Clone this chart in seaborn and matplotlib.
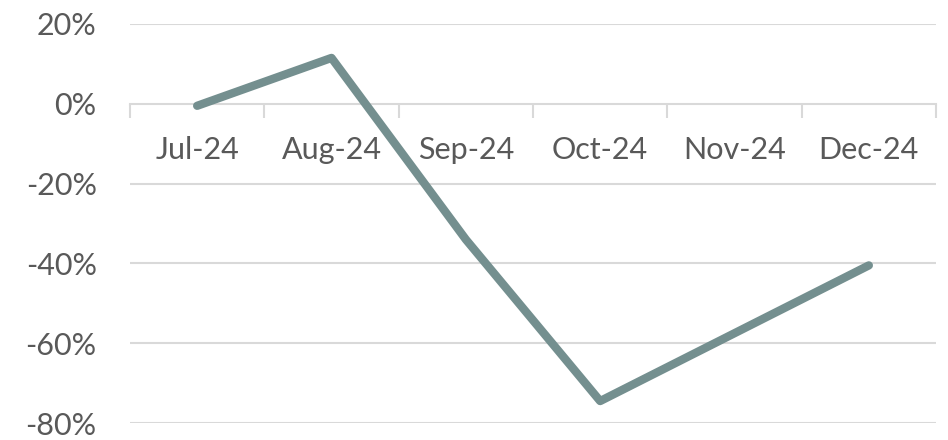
import matplotlib
matplotlib.use("Agg")
import matplotlib.pyplot as plt
import seaborn as sns
import pandas as pd
from matplotlib.ticker import FixedLocator, FuncFormatter

months = ["Jul-24", "Aug-24", "Sep-24", "Oct-24", "Nov-24", "Dec-24"]
values = [-0.005, 0.115, -0.34, -0.745, -0.575, -0.405]
y_ticks = [0.2, 0.0, -0.2, -0.4, -0.6, -0.8]

df = pd.DataFrame({"month": months, "value": values})

sns.set_theme(style="white")
plt.rcParams["font.family"] = ["Lato", "DejaVu Sans"]

fig = plt.figure(figsize=(9.48, 4.4), dpi=100)
ax = fig.add_axes([130 / 948, (440 - 423) / 440, (936 - 130) / 948, (423 - 24) / 440])

sns.lineplot(data=df, x="month", y="value", sort=False, color="#748f8f",
             linewidth=6, ax=ax, solid_capstyle="round", solid_joinstyle="round")

ax.set_xlim(-0.5, len(months) - 0.5)
ax.set_ylim(-0.8, 0.2)
ax.set_xlabel("")
ax.set_ylabel("")

grid_c = "#d9d9d9"
text_c = "#595959"
for y in y_ticks:
    if y != 0:
        ax.axhline(y, color=grid_c, linewidth=1.5, zorder=0)

for s in ["top", "right", "left"]:
    ax.spines[s].set_visible(False)
ax.spines["bottom"].set_position(("data", 0))
ax.spines["bottom"].set_color(grid_c)
ax.spines["bottom"].set_linewidth(1.5)
ax.spines["bottom"].set_zorder(0)

ax.xaxis.set_major_locator(FixedLocator([i - 0.5 for i in range(len(months) + 1)]))
ax.xaxis.set_minor_locator(FixedLocator(list(range(len(months)))))
ax.set_xticklabels([], minor=False)
ax.set_xticklabels(months, minor=True)
ax.tick_params(axis="x", which="major", direction="out", length=10, width=1.5,
               color=grid_c, bottom=True)
ax.tick_params(axis="x", which="minor", length=0, pad=23, labelsize=22,
               labelcolor=text_c, bottom=True)

ax.set_yticks(y_ticks)
ax.yaxis.set_major_formatter(FuncFormatter(lambda v, p: f"{v * 100:.0f}%".replace("\u2212", "-")))
ax.tick_params(axis="y", length=0, pad=24, labelsize=22, labelcolor=text_c)

fig.savefig("out.png", dpi=100)
